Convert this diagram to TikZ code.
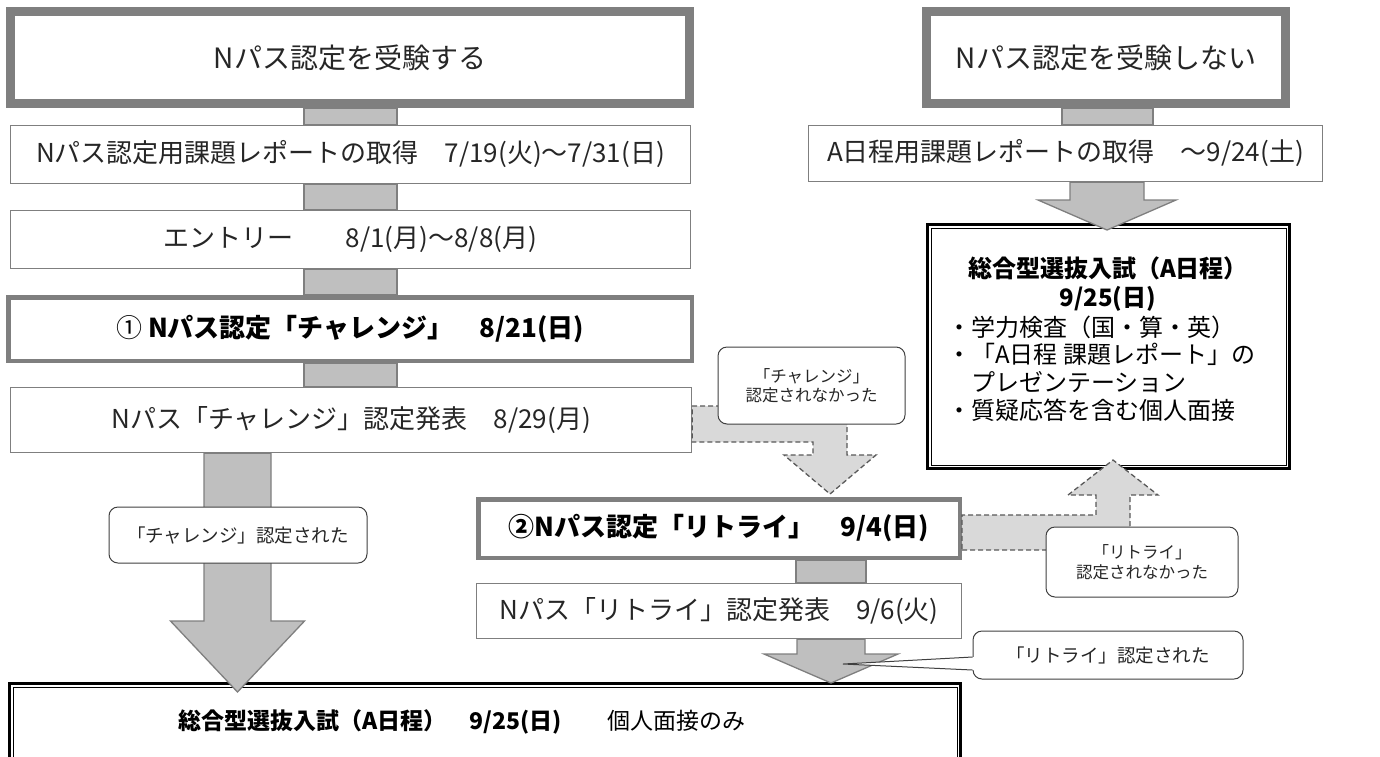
\documentclass[tikz,border=0pt]{standalone}
\usepackage{fontspec}
\setmainfont{Noto Sans CJK JP}
\usetikzlibrary{calc}

\definecolor{framegray}{HTML}{7F7F7F}
\definecolor{bargray}{HTML}{BFBFBF}
\definecolor{pathgray}{HTML}{D9D9D9}
\definecolor{dashgray}{HTML}{595959}
\definecolor{inkgray}{HTML}{262626}

% gray bar between two boxes, x from #3 to #4
\newcommand{\connbar}[4]{%
  \filldraw[bar] let \p1=(#1.south), \p2=(#2.north) in (#3,\y1) rectangle (#4,\y2);}

% block arrow down: from node #1, axis #2, shaft half #3, tip y #4, head length #5, head half #6
\newcommand{\blockdown}[6]{%
  \filldraw[blockarrow] let \p1=(#1.south) in
    ({#2-#3},\y1) -- ({#2-#3},{#4-#5}) -- ({#2-#6},{#4-#5}) -- (#2,#4)
    -- ({#2+#6},{#4-#5}) -- ({#2+#3},{#4-#5}) -- ({#2+#3},\y1) -- cycle;}

\begin{document}
\begin{tikzpicture}[x=1pt, y=-1pt, line join=miter,
  titlebox/.style={draw=framegray, line width=9pt, fill=white, text=inkgray,
    font=\fontsize{28}{32}\selectfont},
  stepbox/.style={draw=framegray, line width=1.3pt, fill=white, text=inkgray,
    font=\fontsize{26}{30}\selectfont},
  keybox/.style={draw=framegray, line width=4.5pt, fill=white, text=black,
    font=\fontsize{26}{30}\selectfont\bfseries},
  exambox/.style={draw=black, line width=3pt, fill=white},
  notebox/.style={draw=black!75, line width=1pt, fill=white, rounded corners=9pt,
    align=center, text=inkgray, font=\fontsize{18.5}{22}\selectfont},
  bar/.style={fill=bargray, draw=framegray, line width=1.3pt},
  blockarrow/.style={fill=bargray, draw=framegray, line width=1.3pt},
  dasharrow/.style={fill=pathgray, draw=dashgray, line width=1.3pt,
    dash pattern=on 5pt off 3pt},
  examtext/.style={text=black, inner sep=0pt, font=\fontsize{24}{28}\selectfont},
]
\useasboundingbox (0,0) rectangle (1380,756);

% --- Left column: taking the N-pass ---
\node[titlebox, minimum width=679, minimum height=92] (juken) at (350,57.5) {Nパス認定を受験する};
\node[stepbox, minimum width=680, minimum height=58] (report) at (350.5,154.5) {Nパス認定用課題レポートの取得　7/19(火)～7/31(日)};
\node[stepbox, minimum width=680, minimum height=58] (entry) at (350.5,239.5) {エントリー　　8/1(月)～8/8(月)};
\node[keybox, minimum width=683.5, minimum height=63.5] (challenge) at (350,329) {{\mdseries ①} Nパス認定「チャレンジ」　8/21(日)};
\node[stepbox, minimum width=681, minimum height=65] (happyo1) at (351,420) {Nパス「チャレンジ」認定発表　8/29(月)};

% --- Retry branch ---
\node[keybox, minimum width=481.5, minimum height=58.5] (retry) at (719,528.5) {②Nパス認定「リトライ」　9/4(日)};
\node[stepbox, minimum width=485, minimum height=55] (happyo2) at (719,611) {Nパス「リトライ」認定発表　9/6(火)};

% --- Exam, interview only ---
\node[exambox, minimum width=951, minimum height=116.5] (exam) at (485,741.75) {};
\draw[line width=1pt] ([shift={(5,5)}]exam.north west) rectangle ([shift={(-5,-5)}]exam.south east);
\node[examtext, anchor=west, font=\fontsize{23}{27}\selectfont] (examtxt) at (178,722)
  {\textbf{総合型選抜入試（A日程）　9/25(日)}　　個人面接のみ};

% --- Right column: not taking the N-pass ---
\node[titlebox, minimum width=359, minimum height=92] (nojuken) at (1106,57.5) {Nパス認定を受験しない};
\node[stepbox, minimum width=514, minimum height=56] (reportA) at (1065.5,153.5) {A日程用課題レポートの取得　～9/24(土)};
\node[exambox, minimum width=362, minimum height=244] (examA) at (1108.5,346.5) {};
\draw[line width=1pt] ([shift={(5,5)}]examA.north west) rectangle ([shift={(-5,-5)}]examA.south east);
\node[examtext, font=\fontsize{24}{28}\selectfont\bfseries] (examAhead) at (1108,268) {総合型選抜入試（A日程）};
\node[examtext, font=\fontsize{24}{28}\selectfont\bfseries] (examAdate) at (1108,298.5) {9/25(日)};
\node[examtext, anchor=west] (itemA) at (947,327) {・学力検査（国・算・英）};
\node[examtext, anchor=west] (itemB) at (947,354.5) {・「A日程 課題レポート」の};
\node[examtext, anchor=west] (itemC) at (947,382) {　プレゼンテーション};
\node[examtext, anchor=west] (itemD) at (947,410) {・質疑応答を含む個人面接};

% --- Bars ---
\connbar{juken}{report}{304}{397}
\connbar{report}{entry}{304}{397}
\connbar{entry}{challenge}{304}{397}
\connbar{challenge}{happyo1}{304}{397}
\connbar{retry}{happyo2}{796}{866}
\connbar{nojuken}{reportA}{1062}{1153}

% --- Block arrows ---
\blockdown{happyo1}{237.5}{33.5}{692}{71}{67}
\blockdown{happyo2}{831}{34}{683}{29}{67}
\blockdown{reportA}{1107}{37}{230}{30}{69}

% not passed "challenge" -> retry
\filldraw[dasharrow] let \p1=(happyo1.east) in
  (\x1,406) -- (847,406) -- (847,455) -- (876,455) -- (830,494) -- (784,455)
  -- (813,455) -- (813,442) -- (\x1,442) -- cycle;
% not passed "retry" -> exam A
\filldraw[dasharrow] let \p1=(retry.east) in
  (\x1,550) -- (1130,550) -- (1130,495) -- (1158,495) -- (1113,460) -- (1068,495)
  -- (1096,495) -- (1096,515) -- (\x1,515) -- cycle;

% --- Notes ---
\node[notebox, minimum width=258, minimum height=56] (passc) at (238,535) {「チャレンジ」認定された};
\node[notebox, minimum width=187, minimum height=77, font=\fontsize{16.5}{19}\selectfont] (failc) at (811.5,385.5) {「チャレンジ」\\認定されなかった};
\node[notebox, minimum width=192, minimum height=70, font=\fontsize{16.5}{20}\selectfont] (failr) at (1142,562) {「リトライ」\\認定されなかった};
\node[notebox, minimum width=270, minimum height=48] (passr) at (1108,655) {「リトライ」認定された};
\fill[white] let \p1=(passr.west) in (843,664) -- ({\x1+2pt},657) -- ({\x1+2pt},670) -- cycle;
\draw[black!75, line width=1pt] let \p1=(passr.west) in (\x1,657) -- (843,664) -- (\x1,670);

\end{tikzpicture}
\end{document}
